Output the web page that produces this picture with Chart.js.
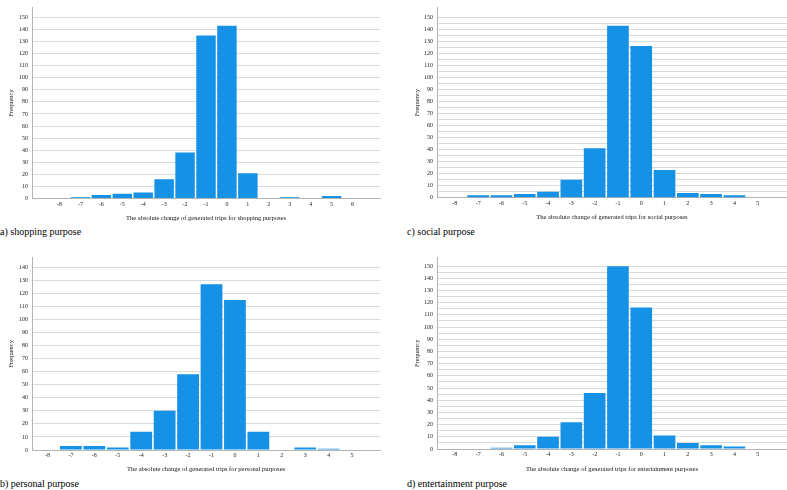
<!DOCTYPE html>
<html lang="en">
<head>
  <meta charset="UTF-8">
  <title>Absolute change of generated trips by purpose</title>
  <script src="https://cdn.jsdelivr.net/npm/chart.js"></script>
  <style>
    body {
      margin: 0;
      background: #fff;
      width: 787px;
      height: 490px;
      position: relative;
      overflow: hidden;
      font-family: "Liberation Serif", "Times New Roman", serif;
    }
    .panel { position: absolute; }
    .caption {
      position: absolute;
      font-size: 10px;
      line-height: 10px;
      color: #000;
      white-space: nowrap;
    }
  </style>
</head>
<body>
  <div class="panel" style="left:0;top:0;width:390px;height:222px"><canvas id="shopping"></canvas></div>
  <div class="panel" style="left:395px;top:0;width:392px;height:221px"><canvas id="social"></canvas></div>
  <div class="panel" style="left:0;top:250px;width:390px;height:223px"><canvas id="personal"></canvas></div>
  <div class="panel" style="left:395px;top:250px;width:392px;height:223px"><canvas id="entertainment"></canvas></div>

  <div class="caption" style="left:0;top:227px">a) shopping purpose</div>
  <div class="caption" style="left:407px;top:227px">c) social purpose</div>
  <div class="caption" style="left:0;top:479px">b) personal purpose</div>
  <div class="caption" style="left:407px;top:479px">d) entertainment purpose</div>

  <script>
    // Categories (absolute change of generated trips)
    const shoppingCats = [-8, -7, -6, -5, -4, -3, -2, -1, 0, 1, 2, 3, 4, 5, 6];
    const otherCats = [-8, -7, -6, -5, -4, -3, -2, -1, 0, 1, 2, 3, 4, 5];

    // Frequencies
    const shoppingFreq = [0, 1, 3, 4, 5, 16, 38, 135, 143, 21, 0, 1, 0, 2, 0];
    const socialFreq = [0, 2, 2, 3, 5, 15, 41, 143, 126, 23, 4, 3, 2, 0];
    const personalFreq = [0, 3, 3, 2, 14, 30, 58, 127, 115, 14, 0, 2, 1, 0];
    const entertainmentFreq = [0, 0, 1, 3, 10, 22, 46, 150, 116, 11, 5, 3, 2, 0];

    // Y tick values (labels only on multiples of 10)
    const yTicks150 = [0, 10, 20, 30, 40, 50, 60, 70, 80, 90, 100, 110, 120, 130, 140, 150];
    const yTicks140 = [0, 10, 20, 30, 40, 50, 60, 70, 80, 90, 100, 110, 120, 130, 140];
    const yTicks150Fine = [0, 5, 10, 15, 20, 25, 30, 35, 40, 45, 50, 55, 60, 65, 70, 75,
                           80, 85, 90, 95, 100, 105, 110, 115, 120, 125, 130, 135, 140, 145, 150];

    const barBlue = '#1591e6';
    const gridGray = '#dadada';
    const axisGray = '#b4b4b4';
    const serif = '"Liberation Serif", "Times New Roman", serif';

    function histogram(id, cats, freqs, yTicks, xTitle, box) {
      new Chart(document.getElementById(id), {
        type: 'bar',
        data: {
          datasets: [{
            data: cats.map((c, i) => ({ x: c, y: freqs[i] })),
            backgroundColor: barBlue,
            borderWidth: 0,
            categoryPercentage: 1,
            barPercentage: 0.93
          }]
        },
        options: {
          responsive: true,
          maintainAspectRatio: false,
          animation: false,
          layout: { padding: { top: box.top, right: box.right, left: 0, bottom: 0 } },
          plugins: { legend: { display: false }, tooltip: { enabled: false } },
          scales: {
            x: {
              type: 'linear',
              min: box.xMin,
              max: box.xMax,
              afterBuildTicks: s => { s.ticks = cats.map(v => ({ value: v })); },
              afterFit: s => { s.height = box.xAxisH; },
              grid: { display: false, drawTicks: false },
              border: { color: axisGray },
              ticks: {
                font: { family: serif, size: 6 },
                color: '#222',
                padding: 2,
                autoSkip: false,
                maxRotation: 0
              },
              title: {
                display: true,
                text: xTitle,
                font: { family: serif, size: 6.5 },
                color: '#111',
                padding: 0
              }
            },
            y: {
              min: 0,
              max: box.yMax,
              afterBuildTicks: s => { s.ticks = yTicks.map(v => ({ value: v })); },
              afterFit: s => { s.width = box.yAxisW; },
              grid: { color: gridGray, drawTicks: false },
              border: { color: axisGray },
              ticks: {
                font: { family: serif, size: 6 },
                color: '#222',
                padding: 4,
                autoSkip: false,
                callback: v => (v % 10 === 0 ? v : '')
              },
              title: {
                display: true,
                text: 'Frequency',
                font: { family: serif, size: 6.5 },
                color: '#111',
                padding: { top: box.yTitlePad, bottom: 0 }
              }
            }
          }
        }
      });
    }

    histogram('shopping', shoppingCats, shoppingFreq, yTicks150,
      'The absolute change of generated trips for shopping purposes',
      { top: 0, right: 10, xMin: -8.76, xMax: 6.76, yMax: 158, xAxisH: 23.5, yAxisW: 32, yTitlePad: 7 });

    histogram('social', otherCats, socialFreq, yTicks150Fine,
      'The absolute change of generated trips for social purposes',
      { top: 0, right: 0, xMin: -8.23, xMax: 5.72, yMax: 158, xAxisH: 23.3, yAxisW: 42, yTitlePad: 18 });

    histogram('personal', otherCats, personalFreq, yTicks140,
      'The absolute change of generated trips for personal purposes',
      { top: 2.7, right: 10, xMin: -8.13, xMax: 5.66, yMax: 147.5, xAxisH: 23, yAxisW: 32, yTitlePad: 7 });

    histogram('entertainment', otherCats, entertainmentFreq, yTicks150Fine,
      'The absolute change of generated trips for entertainment purposes',
      { top: 2, right: 0, xMin: -8.23, xMax: 5.72, yMax: 157, xAxisH: 24, yAxisW: 42, yTitlePad: 18 });
  </script>
</body>
</html>
